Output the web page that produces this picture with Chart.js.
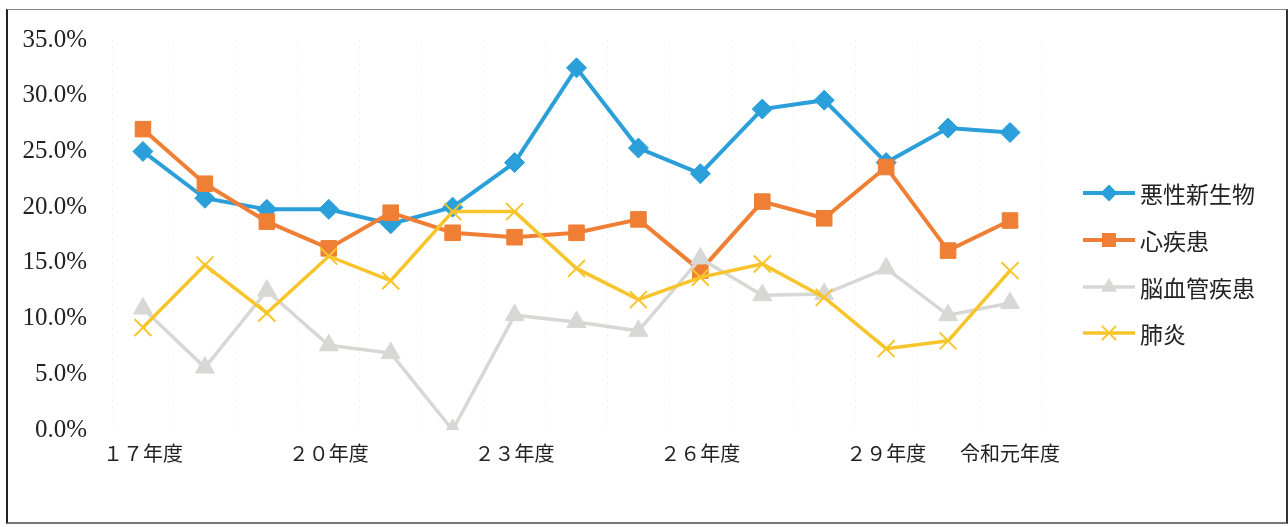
<!DOCTYPE html>
<html lang="ja">
<head>
<meta charset="utf-8">
<title>死因別割合の推移</title>
<script src="https://cdn.jsdelivr.net/npm/chart.js@4.4.0/dist/chart.umd.min.js"></script>
<style>
  html, body { margin: 0; padding: 0; background: #fff; }
  #wrap { position: relative; width: 1288px; height: 527px; }
  #frame {
    position: absolute; left: 6px; top: 9px; width: 1278px; height: 512px;
    border-top: 1px solid #888; border-bottom: 2px solid #777;
    border-left: 2px solid #222; border-right: 2px solid #333;
    pointer-events: none;
  }
</style>
</head>
<body>
<div id="wrap">
  <canvas id="myChart" width="1288" height="527"></canvas>
  <div id="frame"></div>
</div>
<script>
// 年度（平成17年度〜令和元年度）
const years = [
  "１７年度", "１８年度", "１９年度", "２０年度", "２１年度",
  "２２年度", "２３年度", "２４年度", "２５年度", "２６年度",
  "２７年度", "２８年度", "２９年度", "３０年度", "令和元年度"
];
// 目盛りに表示する年度
const shownYears = ["１７年度", "２０年度", "２３年度", "２６年度", "２９年度", "令和元年度"];

// 死因別の割合（%）
const cancer = [25.0, 20.8, 19.8, 19.8, 18.5, 20.0, 24.0, 32.5, 25.3, 23.0, 28.8, 29.6, 24.0, 27.1, 26.7];
const heart = [27.0, 22.1, 18.7, 16.3, 19.5, 17.7, 17.3, 17.7, 18.9, 14.3, 20.5, 19.0, 23.6, 16.1, 18.8];
const stroke = [10.9, 5.6, 12.5, 7.6, 6.9, 0.0, 10.3, 9.7, 8.9, 15.4, 12.1, 12.2, 14.5, 10.3, 11.4];
const pneumonia = [9.2, 14.8, 10.5, 15.6, 13.4, 19.6, 19.6, 14.5, 11.7, 13.7, 14.9, 11.9, 7.3, 8.0, 14.3];

const yTicks = [0, 5, 10, 15, 20, 25, 30, 35];

const serif = "'Liberation Serif', 'Noto Sans CJK JP', serif";
const gothic = "'Noto Sans CJK JP', sans-serif";

// Legend drawn at the right: a short line with the series marker in the middle
const sideLegend = {
  id: 'sideLegend',
  afterDraw(chart) {
    const ctx = chart.ctx;
    const x0 = 1083, x1 = 1135, tx = 1140;
    const rows = [193, 240, 287, 333];
    chart.data.datasets.forEach((ds, i) => {
      const y = rows[i];
      const mx = (x0 + x1) / 2;
      ctx.save();
      ctx.strokeStyle = ds.borderColor;
      ctx.lineWidth = ds.borderWidth;
      ctx.beginPath();
      ctx.moveTo(x0, y);
      ctx.lineTo(x1, y);
      ctx.stroke();

      const r = ds.pointRadius * 0.85;
      ctx.fillStyle = ds.pointBackgroundColor;
      ctx.strokeStyle = ds.pointBorderColor;
      ctx.lineWidth = ds.pointBorderWidth;
      ctx.beginPath();
      if (ds.pointStyle === 'rectRot') {
        ctx.moveTo(mx, y - r); ctx.lineTo(mx + r, y); ctx.lineTo(mx, y + r); ctx.lineTo(mx - r, y);
        ctx.closePath(); ctx.fill();
      } else if (ds.pointStyle === 'rect') {
        const s = r * 0.75;
        ctx.rect(mx - s, y - s, s * 2, s * 2); ctx.fill();
      } else if (ds.pointStyle === 'triangle') {
        ctx.moveTo(mx, y - r); ctx.lineTo(mx + r * 0.85, y + r * 0.5); ctx.lineTo(mx - r * 0.85, y + r * 0.5);
        ctx.closePath(); ctx.fill();
      } else {
        const s = r * 0.7;
        ctx.moveTo(mx - s, y - s); ctx.lineTo(mx + s, y + s);
        ctx.moveTo(mx + s, y - s); ctx.lineTo(mx - s, y + s);
        ctx.stroke();
      }
      ctx.fillStyle = '#222';
      ctx.font = '23px ' + gothic;
      ctx.textAlign = 'left';
      ctx.textBaseline = 'middle';
      ctx.fillText(ds.label, tx, y + 1);
      ctx.restore();
    });
  }
};

function series(label, data, color, style, radius, width, order, extra) {
  return Object.assign({
    label: label,
    data: data,
    borderColor: color,
    backgroundColor: color,
    borderWidth: width,
    pointStyle: style,
    pointRadius: radius,
    pointHoverRadius: radius,
    pointBackgroundColor: color,
    pointBorderColor: color,
    pointBorderWidth: 1,
    tension: 0,
    order: order
  }, extra || {});
}

const ctx = document.getElementById('myChart').getContext('2d');
new Chart(ctx, {
  type: 'line',
  data: {
    labels: years,
    datasets: [
      series('悪性新生物', cancer, '#2A9FDA', 'rectRot', 10, 4, 3),
      series('心疾患', heart, '#EE7F35', 'rect', 11, 4, 2),
      series('脳血管疾患', stroke, '#D7D8D6', 'triangle', 11, 3.5, 1),
      series('肺炎', pneumonia, '#F7C52B', 'crossRot', 12, 3.5, 0, { pointBorderWidth: 2 })
    ]
  },
  options: {
    responsive: false,
    animation: false,
    layout: { padding: { top: 36, right: 247, left: 0, bottom: 0 } },
    plugins: {
      legend: { display: false },
      tooltip: { enabled: false }
    },
    scales: {
      x: {
        offset: true,
        grid: {
          display: true,
          offset: true,
          drawTicks: false,
          color: 'rgba(0,0,0,0.05)',
          lineWidth: 1
        },
        border: { display: false, dash: [2, 4] },
        ticks: {
          autoSkip: false,
          maxRotation: 0,
          padding: 14,
          color: '#222',
          font: { family: serif, size: 20 },
          callback: function (value) {
            const label = this.getLabelForValue(value);
            return shownYears.includes(label) ? label : '';
          }
        },
        afterFit(scale) { scale.height = 97; }
      },
      y: {
        min: 0,
        max: 35,
        grid: { display: false, drawTicks: false },
        border: { display: false },
        afterBuildTicks(scale) { scale.ticks = yTicks.map(v => ({ value: v })); },
        ticks: {
          padding: 25,
          color: '#222',
          font: { family: serif, size: 25 },
          callback: v => v.toFixed(1) + '%'
        },
        afterFit(scale) { scale.width = 112; }
      }
    }
  },
  plugins: [sideLegend]
});
</script>
</body>
</html>
